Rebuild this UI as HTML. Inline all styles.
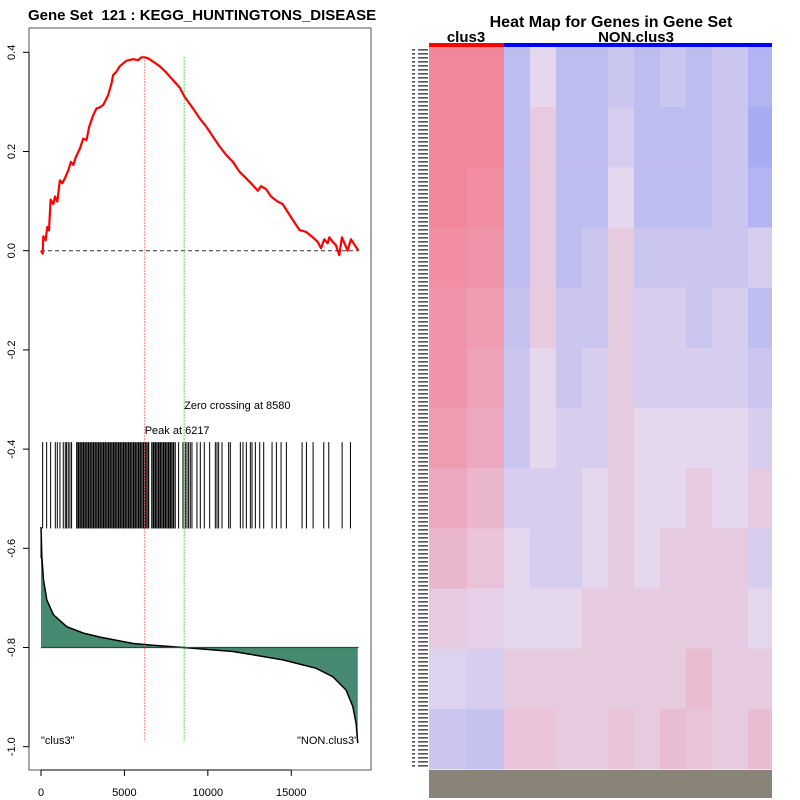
<!DOCTYPE html>
<html><head><meta charset="utf-8"><style>
body{margin:0;background:#fff;font-family:"Liberation Sans",sans-serif}
svg{display:block}
</style></head><body>
<svg id="chart" width="800" height="800" viewBox="0 0 800 800" xmlns="http://www.w3.org/2000/svg" font-family="Liberation Sans, sans-serif">
<defs>
<pattern id="rowlab" width="16" height="4" patternUnits="userSpaceOnUse"><rect x="2" y="1" width="13" height="1.6" fill="#555"/></pattern>
</defs>
<rect width="800" height="800" fill="#fff"/>
<text x="28" y="20" font-size="15" font-weight="bold" style="white-space:pre">Gene Set  121 : KEGG_HUNTINGTONS_DISEASE</text>
<rect x="29" y="28" width="342" height="742" fill="none" stroke="#555" stroke-width="1"/>
<g id="yaxis"></g>
<g id="xaxis"></g>
<g id="plot"></g>
<text x="611" y="27" font-size="16" font-weight="bold" text-anchor="middle">Heat Map for Genes in Gene Set</text>
<text x="466" y="42" font-size="15" font-weight="bold" text-anchor="middle">clus3</text>
<text x="636" y="42" font-size="15" font-weight="bold" text-anchor="middle">NON.clus3</text>
<rect x="429" y="43" width="75" height="4" fill="#ff0000"/>
<rect x="504" y="43" width="268" height="4" fill="#0000ff"/>
<g id="heat"></g>
</svg>
<script>
const NS="http://www.w3.org/2000/svg";
// running enrichment score (rank, ES)
const esRanks=[0,99,139,278,378,478,577,737,837,976,1135,1275,1434,1634,1793,1933,2092,2331,2531,2730,2889,3128,3328,3527,3726,3886,4025,4225,4324,4524,4723,5121,5520,5819,6018,6218,6417,6716,7114,7513,7912,8310,8609,9107,9506,9905,10303,10702,11100,11499,11898,12296,12695,12994,13193,13492,13791,14190,14489,14688,15086,15485,15884,16282,16581,16780,16980,17179,17279,17478,17677,17877,18036,18375,18574,19032];
const esValues=[0,-0.006,0.029,0.021,0.048,0.041,0.103,0.094,0.109,0.099,0.142,0.136,0.146,0.162,0.179,0.173,0.189,0.206,0.226,0.223,0.25,0.273,0.287,0.289,0.294,0.304,0.314,0.337,0.354,0.361,0.372,0.383,0.386,0.384,0.39,0.39,0.388,0.381,0.372,0.359,0.344,0.329,0.31,0.287,0.267,0.25,0.23,0.21,0.193,0.179,0.159,0.146,0.132,0.121,0.13,0.124,0.109,0.099,0.094,0.083,0.062,0.042,0.038,0.027,0.018,0.005,0.023,0.015,0.027,0.018,0.011,-0.009,0.027,0,0.023,0];
// gene hit ranks
const hitRanks=[99,338,577,856,976,1135,1335,1454,1534,1634,1733,1833,2148,2248,2348,2448,2548,2648,2748,2848,2948,3048,3148,3248,3348,3448,3548,3648,3748,3848,3948,4048,4148,4248,4348,4448,4548,4648,4748,4848,4948,5048,5148,5248,5348,5448,5548,5648,5748,5848,5948,6048,6148,6248,6348,6448,6648,6748,6848,6948,7048,7148,7248,7348,7448,7548,7648,7748,7848,7948,8048,8248,8508,8648,8748,8848,8948,9048,9348,9548,9788,10108,10448,10548,10648,10848,11248,11348,11948,12108,12308,12548,12648,12848,13108,13348,13848,14108,14388,14708,15648,15908,16308,16948,17248,18048,18548];
// ranked list metric (scaled to plot units)
const metricRanks=[0,50,150,349,747,1544,2541,3538,5532,6528,8522,11512,14502,16495,17492,18289,18688,18887,18986];
const metricValues=[-0.557,-0.617,-0.664,-0.704,-0.734,-0.758,-0.771,-0.779,-0.792,-0.795,-0.8,-0.808,-0.825,-0.842,-0.859,-0.886,-0.919,-0.953,-0.993];
const xTicks=[0,5000,10000,15000];
const yTicks=[0.4,0.2,0.0,-0.2,-0.4,-0.6,-0.8,-1.0];
const peakRank=6217, zeroRank=8580, baseline=-0.8;
// heatmap band values (rows top->bottom, column bands left->right)
const heatRows=[
[.6,.6,-.3,0,-.3,-.3,-.2,-.3,-.2,-.3,-.2,-.4],
[.6,.6,-.3,.1,-.3,-.3,-.1,-.3,-.3,-.3,-.2,-.5],
[.6,.55,-.3,.1,-.3,-.3,0,-.3,-.3,-.3,-.2,-.4],
[.55,.5,-.3,.1,-.3,-.2,.1,-.2,-.2,-.2,-.2,-.1],
[.5,.45,-.25,.1,-.2,-.2,.1,-.1,-.1,-.2,-.1,-.3],
[.5,.4,-.2,0,-.2,-.1,.1,-.1,-.1,-.1,-.1,-.2],
[.45,.35,-.2,0,-.1,-.1,.1,0,0,0,0,-.1],
[.35,.25,-.1,-.1,-.1,0,.1,0,0,.1,0,.1],
[.25,.15,0,-.1,-.1,0,.1,0,.1,.1,.1,-.1],
[.1,.05,0,0,0,.1,.1,.1,.1,.1,.1,0],
[-.05,-.1,.1,.1,.1,.1,.1,.1,.1,.2,.1,.1],
[-.2,-.25,.15,.15,.1,.1,.15,.1,.2,.15,.1,.2]];
const heatColEdges=[429,467,504,530,556,582,608,634,660,686,712,748,772];

const X=r=>41+r*(317/19000);
const Y=v=>250.7-v*496;
function mk(tag,attrs,parent){const e=document.createElementNS(NS,tag);for(const k in attrs)e.setAttribute(k,attrs[k]);parent.appendChild(e);return e;}
const plot=document.getElementById('plot'),ya=document.getElementById('yaxis'),xa=document.getElementById('xaxis'),heat=document.getElementById('heat');

yTicks.forEach(t=>{
  const l=mk('line',{x1:23,x2:29,y1:Y(t),y2:Y(t),stroke:'#000'},ya);
  
  
  const tx=mk('text',{x:0,y:0,'font-size':11,'text-anchor':'middle',transform:`translate(15,${Y(t)}) rotate(-90)`},ya);
  
  
  tx.textContent=t.toFixed(1);
});
mk('line',{x1:29,x2:29,y1:Y(0.4),y2:Y(-1.0),stroke:'#000'},ya);
xTicks.forEach(t=>{
  const l=mk('line',{x1:X(t),x2:X(t),y1:770,y2:776,stroke:'#000'},xa);
  
  
  const tx=mk('text',{x:X(t),y:796,'font-size':11,'text-anchor':'middle'},xa);
  
  
  tx.textContent=String(t);
});
mk('line',{x1:X(0),x2:X(15000),y1:770,y2:770,stroke:'#000'},xa);

// metric fill
let d=`M${X(metricRanks[0])},${Y(baseline)}`;
metricRanks.forEach((r,i)=>{d+=`L${X(r)},${Y(metricValues[i])}`;});
d+=`L${X(metricRanks[metricRanks.length-1])},${Y(baseline)}Z`;
const fill=mk('path',{d,fill:'#478a72',stroke:'none'},plot);


let d2='';metricRanks.forEach((r,i)=>{d2+=(i?'L':'M')+X(r)+','+Y(metricValues[i]);});
const ml=mk('path',{d:d2,fill:'none',stroke:'#000','stroke-width':1.5},plot);


const bl=mk('line',{x1:X(0),x2:X(19032),y1:Y(baseline),y2:Y(baseline),stroke:'#2a4a3e','stroke-width':1.2},plot);


mk('line',{x1:X(0),x2:X(0),y1:Y(-0.56),y2:Y(-0.62),stroke:'#000'},plot);

// hits
hitRanks.forEach(r=>{
  const dense=r>2100&&r<8000;
  const h=mk('line',{x1:X(r),x2:X(r),y1:Y(-0.386),y2:Y(-0.56),stroke:'#000','stroke-width':dense?1.4:1},plot);
  
  
});

// zero line
const zl=mk('line',{x1:X(0),x2:X(19032),y1:Y(0),y2:Y(0),stroke:'#333','stroke-dasharray':'4,3','stroke-width':1},plot);


// peak and zero-crossing lines
const pl=mk('line',{x1:X(peakRank),x2:X(peakRank),y1:Y(0.39),y2:Y(-0.99),stroke:'#ff6060','stroke-dasharray':'1.5,1.5','stroke-width':1},plot);


const zc=mk('line',{x1:X(zeroRank),x2:X(zeroRank),y1:Y(0.39),y2:Y(-0.99),stroke:'#20d020','stroke-dasharray':'1.5,1.5','stroke-width':1},plot);



// ES curve
let d3='';esRanks.forEach((r,i)=>{d3+=(i?'L':'M')+X(r).toFixed(1)+','+Y(esValues[i]).toFixed(1);});
const es=mk('path',{d:d3,fill:'none',stroke:'#ff0000','stroke-width':2.2,'stroke-linejoin':'round'},plot);



const t1=mk('text',{x:X(peakRank),y:434,'font-size':11},plot);


t1.textContent='Peak at '+peakRank;
const t2=mk('text',{x:X(zeroRank),y:409,'font-size':11},plot);


t2.textContent='Zero crossing at '+zeroRank;
const t3=mk('text',{x:41,y:744,'font-size':11},plot);


t3.textContent='"clus3"';
const t4=mk('text',{x:358,y:744,'font-size':11,'text-anchor':'end'},plot);


t4.textContent='"NON.clus3"';

// heatmap
function col(v){
  const n=[228,215,238],r=[242,135,155],b=[165,172,242];
  const t=Math.min(1,Math.abs(v)/(v>0?0.6:0.5)),tg=v>0?r:b;
  return `rgb(${n.map((c,i)=>Math.round(c+(tg[i]-c)*t)).join(',')})`;
}
const hTop=47,hBottom=769,rh=(hBottom-hTop)/heatRows.length;
heatRows.forEach((row,ri)=>{
  row.forEach((v,ci)=>{
    const c=mk('rect',{x:heatColEdges[ci],y:(hTop+ri*rh).toFixed(2),width:heatColEdges[ci+1]-heatColEdges[ci],height:(rh+0.5).toFixed(2),fill:col(v)},heat);
    
    
  });
});
// row label column and column label strip
const rl=mk('rect',{x:412,y:47,width:16,height:722,fill:'url(#rowlab)'},heat);


const cl=mk('rect',{x:429,y:770,width:343,height:28,fill:'#8a8478'},heat);


</script>
</body></html>
